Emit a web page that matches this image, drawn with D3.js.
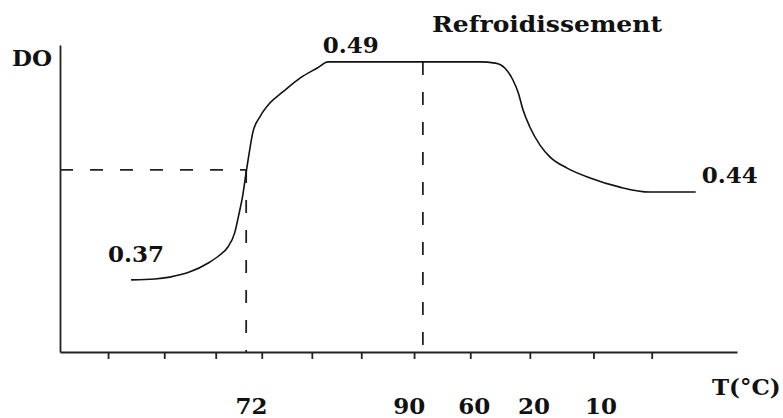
<!DOCTYPE html>
<html>
<head>
<meta charset="utf-8">
<script src="https://cdn.jsdelivr.net/npm/d3@7"></script>
<style>
  html, body { margin: 0; padding: 0; background: #fff; }
  text { font-family: "DejaVu Serif", serif; font-weight: bold; fill: #111; }
</style>
</head>
<body>
<div id="chart"></div>
<script>
// schematic curve, in axis units (x: 0..100 along T axis, y: 0..100 along DO axis)
var curveX = [10.5, 14.0, 16.2, 19.2, 21.9, 23.6, 24.8, 25.8, 26.4, 27.0, 27.5,
    27.9, 28.5, 29.5, 31.0, 32.9, 35.5, 38.0, 39.6, 62.0, 64.3, 65.7, 66.9,
    67.7, 68.4, 69.4, 70.9, 72.4, 74.9, 78.3, 82.7, 87.1, 93.9];
var curveY = [23.5, 23.8, 24.4, 26.1, 29.0, 31.6, 34.2, 38.8, 44.6, 51.1, 58.6,
    64.2, 71.7, 76.5, 81.1, 84.7, 89.3, 92.5, 94.5, 94.5, 94.1, 92.5, 88.6,
    84.4, 78.8, 73.3, 67.4, 63.5, 59.9, 56.7, 53.7, 52.1, 52.1];

var tickPositions = [7.1, 15.4, 23.0, 29.8, 37.2, 44.5, 52.3, 60.6, 69.4, 78.8, 87.4];
var tempLabels = ['72', '90', '60', '20', '10'];
var tempLabelPos = [28.3, 51.6, 61.2, 70.0, 79.9];

var doLabels = ['0.37', '0.49', '0.44'];
var doLabelPos = [[7.1, 29.3], [38.8, 97.4], [94.8, 55.0]];

var markX = [27.5, 53.6];   // vertical dashed guides
var markY = 59.3;           // horizontal dashed guide

(function() {
  var width = 783, height = 418,
      x = d3.scaleLinear().domain([0, 100]).range([60, 737]),
      y = d3.scaleLinear().domain([0, 100]).range([352, 45]),
      ink = '#222';

  var svg = d3.select('#chart').append('svg')
      .attr('width', width)
      .attr('height', height);

  // axes
  svg.append('g')
      .attr('transform', 'translate(0,' + y(0) + ')')
      .call(d3.axisBottom(x).tickValues(tickPositions).tickSize(7)
          .tickSizeOuter(0).tickFormat(''))
      .call(function(g) {
        g.selectAll('path, line').attr('stroke', ink).attr('stroke-width', 1.8);
      });
  svg.append('g')
      .attr('transform', 'translate(' + x(0) + ',0)')
      .call(d3.axisLeft(y).tickValues([]).tickSizeOuter(0))
      .call(function(g) {
        g.selectAll('path').attr('stroke', ink).attr('stroke-width', 1.8);
      });

  // dashed guides
  var guides = [
    [[0, markY], [markX[0], markY]],
    [[markX[0], markY], [markX[0], 0]],
    [[markX[1], curveY[18]], [markX[1], 0]]
  ];
  svg.selectAll('line.guide').data(guides)
      .enter().append('line')
          .attr('class', 'guide')
          .attr('x1', function(d) { return x(d[0][0]); })
          .attr('y1', function(d) { return y(d[0][1]); })
          .attr('x2', function(d) { return x(d[1][0]); })
          .attr('y2', function(d) { return y(d[1][1]); })
          .attr('stroke', ink).attr('stroke-width', 1.8)
          .attr('stroke-dasharray', '13,17');

  // curve
  var pts = curveX.map(function(d, i) { return [d, curveY[i]]; });
  var line = d3.line()
      .x(function(d) { return x(d[0]); })
      .y(function(d) { return y(d[1]); })
      .curve(d3.curveMonotoneX);
  svg.append('path')
      .datum(pts)
      .attr('d', line)
      .attr('fill', 'none')
      .attr('stroke', '#111')
      .attr('stroke-width', 1.6);

  // texts
  svg.selectAll('text.temp').data(tempLabels)
      .enter().append('text')
          .attr('class', 'temp')
          .attr('x', function(d, i) { return x(tempLabelPos[i]); })
          .attr('y', 414)
          .attr('text-anchor', 'middle')
          .attr('font-size', 23)
          .text(function(d) { return d; });

  svg.selectAll('text.do').data(doLabels)
      .enter().append('text')
          .attr('class', 'do')
          .attr('x', function(d, i) { return x(doLabelPos[i][0]); })
          .attr('y', function(d, i) { return y(doLabelPos[i][1]); })
          .attr('font-size', 23)
          .text(function(d) { return d; });

  svg.append('text').attr('x', 12).attr('y', 66)
      .attr('font-size', 23).text('DO');
  svg.append('text').attr('x', 712).attr('y', 395)
      .attr('font-size', 23).text('T(°C)');
  svg.append('text').attr('x', 432).attr('y', 32)
      .attr('font-size', 23)
      .attr('textLength', 230).attr('lengthAdjust', 'spacingAndGlyphs')
      .text('Refroidissement');
})();
</script>
</body>
</html>
